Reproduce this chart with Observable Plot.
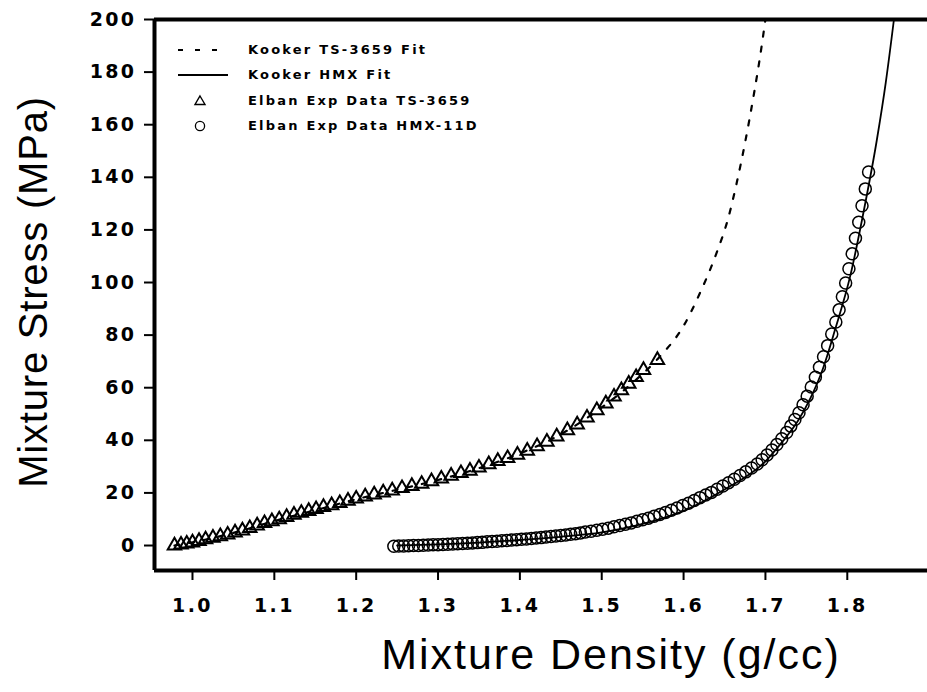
<!DOCTYPE html>
<html><head><meta charset="utf-8">
<script src="https://cdn.jsdelivr.net/npm/d3@7"></script>
<script src="https://cdn.jsdelivr.net/npm/@observablehq/plot@0.6"></script>
<style>
html,body{margin:0;padding:0;background:#fff;overflow:hidden;}
#wrap{position:relative;width:927px;height:692px;}
#wrap svg.plot{display:block;}
.tl text{letter-spacing:2.4px;}
.ttlx text{letter-spacing:2px;}
.ttly text{letter-spacing:0.8px;}
.leg{position:absolute;left:248px;font-family:"DejaVu Sans",sans-serif;font-weight:bold;font-size:13px;letter-spacing:2.2px;line-height:16px;color:#000;white-space:nowrap;}
#legsvg{position:absolute;left:0;top:0;}
</style></head><body><div id="wrap"></div>
<script>
// axis domains and ticks
const xDomain = [0.9536, 1.898];
const yDomain = [-9.5, 200];
const xTicks = [1.0, 1.1, 1.2, 1.3, 1.4, 1.5, 1.6, 1.7, 1.8];
const yTicks = [0, 20, 40, 60, 80, 100, 120, 140, 160, 180, 200];
const xTitle = "Mixture Density (g/cc)";
const yTitle = "Mixture Stress (MPa)";
const legendLabels = ["Kooker TS-3659 Fit", "Kooker HMX Fit", "Elban Exp Data TS-3659", "Elban Exp Data HMX-11D"];

// Elban experimental data TS-3659 (triangles)
const tsDensity = [0.978,0.986,0.993,1.000,1.008,1.016,1.025,1.034,1.043,1.052,1.061,1.070,1.079,1.088,1.097,1.106,1.115,1.124,1.133,1.142,1.151,1.160,1.170,1.180,1.190,1.200,1.211,1.222,1.233,1.244,1.256,1.268,1.280,1.292,1.304,1.316,1.328,1.339,1.350,1.362,1.373,1.385,1.397,1.409,1.421,1.433,1.445,1.458,1.470,1.482,1.494,1.505,1.515,1.524,1.533,1.542,1.551,1.568];
const tsStress  = [0.0,0.3,0.7,1.1,1.7,2.3,2.9,3.5,4.1,4.9,5.7,6.6,7.6,8.5,9.2,9.9,10.8,11.7,12.4,13.1,13.8,14.6,15.3,16.1,17.0,17.8,18.6,19.4,20.1,20.9,21.8,22.6,23.4,24.4,25.4,26.5,27.5,28.4,29.6,30.9,32.1,33.2,34.5,36.0,37.7,39.4,41.4,43.8,46.0,48.6,51.4,54.0,56.6,59.0,61.5,64.0,66.7,70.5];

// Elban experimental data HMX-11D (circles)
const hmxDensity = [1.246,1.252,1.258,1.264,1.270,1.276,1.282,1.288,1.294,1.300,1.306,1.312,1.318,1.324,1.330,1.336,1.342,1.348,1.354,1.360,1.366,1.372,1.378,1.384,1.390,1.396,1.402,1.408,1.414,1.420,1.426,1.432,1.438,1.444,1.450,1.456,1.462,1.468,1.474,1.480,1.487,1.494,1.501,1.508,1.515,1.522,1.529,1.536,1.543,1.550,1.557,1.564,1.571,1.578,1.585,1.592,1.599,1.606,1.613,1.620,1.627,1.634,1.641,1.648,1.655,1.662,1.669,1.676,1.683,1.690,1.696,1.702,1.708,1.714,1.720,1.726,1.731,1.736,1.741,1.746,1.751,1.756,1.761,1.766,1.771,1.776,1.781,1.786,1.790,1.794,1.798,1.802,1.806,1.810,1.814,1.818,1.822,1.826];
const hmxStress  = [-0.3,-0.2,-0.2,-0.1,0.0,0.0,0.1,0.2,0.3,0.3,0.4,0.5,0.6,0.7,0.8,0.9,1.0,1.1,1.2,1.4,1.5,1.6,1.8,1.9,2.1,2.2,2.4,2.5,2.7,2.9,3.0,3.2,3.4,3.6,3.8,4.0,4.3,4.5,4.8,5.1,5.4,5.8,6.2,6.6,7.1,7.6,8.1,8.6,9.2,9.8,10.4,11.1,11.8,12.6,13.4,14.3,15.2,16.1,17.1,18.2,19.2,20.2,21.4,22.6,23.9,25.2,26.6,28.0,29.5,31.0,32.6,34.4,36.3,38.4,40.6,43.0,45.4,47.9,50.5,53.5,56.8,60.3,64.0,67.8,71.8,76.0,80.4,85.0,89.6,94.6,99.8,105.2,110.9,116.8,122.9,129.2,135.6,142.0];

// Kooker fits
const tsFitDensity = [0.978,1.00,1.05,1.10,1.15,1.20,1.25,1.30,1.35,1.40,1.45,1.50,1.54,1.57,1.60,1.62,1.64,1.655,1.665,1.675,1.685,1.693,1.700];
const tsFitStress  = [0,1.2,4.8,9.3,13.4,17.6,21.2,24.9,29.4,35.0,42.3,52.5,62.5,71.5,83.5,96,111,125,138,153,170,185,200];
const hmxFitDensity = [1.25,1.30,1.35,1.40,1.45,1.50,1.55,1.60,1.65,1.70,1.72,1.74,1.755,1.77,1.785,1.804,1.82,1.836,1.847,1.857];
const hmxFitStress  = [0,0.4,1.1,2.1,3.3,5.0,8.2,13.2,21.3,32.0,39.2,47.5,56,67,82,103,127,154,176,200];

const zip = (a, b) => a.map((d, i) => ({d, s: b[i]}));
const tsPts = zip(tsDensity, tsStress);
const hmxPts = zip(hmxDensity, hmxStress);
const tsFit = zip(tsFitDensity, tsFitStress);
const hmxFit = zip(hmxFitDensity, hmxFitStress);

const tickFont = {fontFamily: "DejaVu Sans", fontWeight: "bold", fontSize: 19};
const titleFamily = "Liberation Sans, Arial, sans-serif";

const chart = Plot.plot({
  width: 927, height: 692,
  marginLeft: 154, marginRight: 0, marginTop: 19, marginBottom: 122,
  x: {domain: xDomain},
  y: {domain: yDomain},
  style: {background: "white", color: "black"},
  marks: [
    Plot.axisX({ticks: xTicks, tickFormat: d3.format(".1f"), tickSize: 10, tickPadding: 18, strokeWidth: 2, label: null, className: "tl", ...tickFont}),
    Plot.axisY({ticks: yTicks, tickFormat: d3.format("d"), tickSize: 10, tickPadding: 8, strokeWidth: 2, label: null, className: "tl", ...tickFont}),
    Plot.ruleY([yDomain[0]], {stroke: "black", strokeWidth: 4}),
    Plot.ruleY([yDomain[1]], {stroke: "black", strokeWidth: 4}),
    Plot.ruleX([xDomain[0]], {stroke: "black", strokeWidth: 4}),
    Plot.line(tsFit, {x: "d", y: "s", stroke: "black", strokeWidth: 2.2, strokeDasharray: "5,10", curve: "monotone-x"}),
    Plot.line(hmxFit, {x: "d", y: "s", stroke: "black", strokeWidth: 1.8, curve: "monotone-x"}),
    Plot.dot(tsPts, {x: "d", y: "s", symbol: "triangle", r: 5, stroke: "black", strokeWidth: 2, fill: "none"}),
    Plot.dot(hmxPts, {x: "d", y: "s", symbol: "circle", r: 6, stroke: "black", strokeWidth: 1.5, fill: "none"}),
    Plot.text([xTitle], {frameAnchor: "bottom", dx: 70, dy: 98, fontSize: 43, fontFamily: titleFamily, fill: "black", className: "ttlx"}),
    Plot.text([yTitle], {frameAnchor: "left", textAnchor: "middle", rotate: -90, dx: -120, dy: -3, fontSize: 40, fontFamily: titleFamily, fill: "black", className: "ttly"})
  ]
});
chart.classList.add("plot");
const wrap = document.getElementById("wrap");
wrap.appendChild(chart);

// legend overlay
const ns = "http://www.w3.org/2000/svg";
const lsvg = document.createElementNS(ns, "svg");
lsvg.setAttribute("id", "legsvg");
lsvg.setAttribute("width", 927); lsvg.setAttribute("height", 150);
lsvg.innerHTML =
  '<line x1="178" y1="50" x2="228" y2="50" stroke="black" stroke-width="2" stroke-dasharray="5,12"/>' +
  '<line x1="178" y1="75" x2="228" y2="75" stroke="black" stroke-width="1.8"/>' +
  '<path d="M200,96 L205,104.5 L195,104.5 Z" fill="none" stroke="black" stroke-width="1.4"/>' +
  '<circle cx="200" cy="126" r="4.6" fill="none" stroke="black" stroke-width="1.3"/>';
wrap.appendChild(lsvg);
const rowsY = [50, 75, 101, 126];
legendLabels.forEach((t, i) => {
  const div = document.createElement("div");
  div.className = "leg";
  div.style.top = (rowsY[i] - 8) + "px";
  div.textContent = t;
  wrap.appendChild(div);
});
</script>
</body></html>
